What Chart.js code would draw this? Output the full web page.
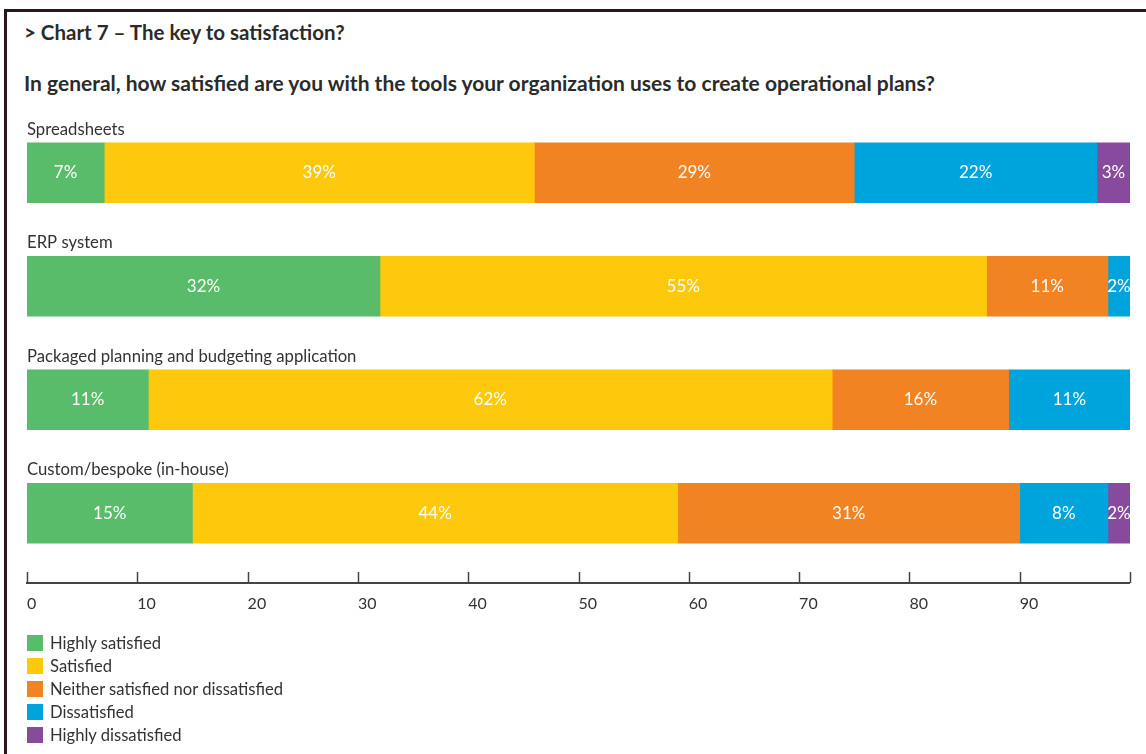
<!DOCTYPE html>
<html>
<head>
<meta charset="utf-8">
<script src="https://cdn.jsdelivr.net/npm/chart.js@4.4.1/dist/chart.umd.min.js"></script>
<style>
  html, body { margin: 0; padding: 0; background: #ffffff; }
  #page { position: relative; width: 1146px; height: 754px; overflow: hidden; font-family: Lato, "Open Sans", sans-serif; color: #333; }
  #frame { position: absolute; left: 4px; top: 9px; right: 0; bottom: 0; border-left: 3px solid #2a1616; border-top: 3px solid #2a1616; }
  #title { position: absolute; left: 24px; top: 19px; font-size: 20.5px; line-height: 26px; font-weight: 700; color: #2b2b2b; white-space: nowrap; }
  #subtitle { position: absolute; left: 24px; top: 69px; font-size: 21px; line-height: 27px; font-weight: 700; color: #2b2b2b; white-space: nowrap; }
  #chart { position: absolute; left: 0; top: 0; }
  #legend { position: absolute; left: 27px; top: 631px; }
  .item { display: flex; align-items: center; height: 23px; font-size: 16.6px; color: #333; }
  .swatch { width: 16px; height: 16px; margin-right: 7px; flex: none; }
</style>
</head>
<body>
<div id="page">
  <div id="frame"></div>
  <div id="title">&gt; Chart 7 – The key to satisfaction?</div>
  <div id="subtitle">In general, how satisfied are you with the tools your organization uses to create operational plans?</div>
  <canvas id="chart" width="1146" height="754"></canvas>
  <div id="legend"></div>
</div>
<script>
// Survey answers per planning tool, in percent
const categories = [
  'Spreadsheets',
  'ERP system',
  'Packaged planning and budgeting application',
  'Custom/bespoke (in-house)'
];
const seriesNames = [
  'Highly satisfied',
  'Satisfied',
  'Neither satisfied nor dissatisfied',
  'Dissatisfied',
  'Highly dissatisfied'
];
const highlySatisfied    = [7, 32, 11, 15];
const satisfied          = [39, 55, 62, 44];
const neither            = [29, 11, 16, 31];
const dissatisfied       = [22, 2, 11, 8];
const highlyDissatisfied = [3, 0, 0, 2];
const xTickLabels = [0, 10, 20, 30, 40, 50, 60, 70, 80, 90];

const seriesColors = ['#59bc6a', '#fec80c', '#f28323', '#00a4dc', '#884a9c'];
const seriesValues = [highlySatisfied, satisfied, neither, dissatisfied, highlyDissatisfied];

const FONT = 'Lato, "Open Sans", sans-serif';

// Category names written above each bar
const categoryLabels = {
  id: 'categoryLabels',
  afterDatasetsDraw(chart) {
    const ctx = chart.ctx;
    const meta = chart.getDatasetMeta(0);
    ctx.save();
    ctx.font = '16.7px ' + FONT;
    ctx.fillStyle = '#333';
    ctx.textAlign = 'left';
    ctx.textBaseline = 'alphabetic';
    meta.data.forEach((bar, i) => {
      const top = bar.y - bar.height / 2;
      ctx.fillText(categories[i], chart.chartArea.left, top - 8);
    });
    ctx.restore();
  }
};

// Percent values centred inside each segment
const valueLabels = {
  id: 'valueLabels',
  afterDatasetsDraw(chart) {
    const ctx = chart.ctx;
    ctx.save();
    ctx.font = '17px ' + FONT;
    ctx.fillStyle = '#ffffff';
    ctx.textAlign = 'center';
    ctx.textBaseline = 'middle';
    chart.data.datasets.forEach((ds, di) => {
      const meta = chart.getDatasetMeta(di);
      meta.data.forEach((bar, i) => {
        const v = ds.data[i];
        if (!v) return;
        const cx = (bar.base + bar.x) / 2;
        ctx.fillText(v + '%', cx, bar.y);
      });
    });
    ctx.restore();
  }
};

// Baseline axis with tick marks pointing up
const bottomAxis = {
  id: 'bottomAxis',
  afterDraw(chart) {
    const ctx = chart.ctx;
    const xs = chart.scales.x;
    const y = chart.chartArea.bottom + 13;
    ctx.save();
    ctx.strokeStyle = '#444';
    ctx.lineWidth = 2;
    ctx.beginPath();
    ctx.moveTo(xs.getPixelForValue(0) - 1, y);
    ctx.lineTo(xs.getPixelForValue(100), y);
    ctx.stroke();
    ctx.lineWidth = 1.5;
    for (let v = 0; v <= 100; v += 10) {
      const px = Math.round(xs.getPixelForValue(v)) + 0.5;
      ctx.beginPath();
      ctx.moveTo(px, y);
      ctx.lineTo(px, y - 11);
      ctx.stroke();
    }
    ctx.restore();
  }
};

const chart = new Chart(document.getElementById('chart'), {
  type: 'bar',
  data: {
    labels: categories,
    datasets: seriesNames.map((name, i) => ({
      label: name,
      data: seriesValues[i],
      backgroundColor: seriesColors[i],
      borderWidth: 0,
      barThickness: 60
    }))
  },
  options: {
    indexAxis: 'y',
    responsive: false,
    animation: false,
    layout: { padding: { left: 27, right: 10, top: 116, bottom: 0 } },
    plugins: {
      legend: { display: false },
      title: { display: false },
      tooltip: { enabled: false }
    },
    scales: {
      y: {
        stacked: true,
        display: false
      },
      x: {
        stacked: true,
        min: 0,
        max: 100,
        grid: { display: false },
        border: { display: false },
        afterFit(scale) { scale.height = 184; },
        ticks: {
          stepSize: 10,
          autoSkip: false,
          maxRotation: 0,
          align: 'start',
          padding: 16,
          color: '#333',
          font: { family: FONT, size: 16 },
          callback: (value) => xTickLabels.includes(value) ? String(value) : ''
        }
      }
    }
  },
  plugins: [categoryLabels, valueLabels, bottomAxis]
});

// Vertical legend list
const legend = document.getElementById('legend');
seriesNames.forEach((name, i) => {
  const row = document.createElement('div');
  row.className = 'item';
  const sw = document.createElement('span');
  sw.className = 'swatch';
  sw.style.background = seriesColors[i];
  const tx = document.createElement('span');
  tx.textContent = name;
  row.appendChild(sw);
  row.appendChild(tx);
  legend.appendChild(row);
});
</script>
</body>
</html>
